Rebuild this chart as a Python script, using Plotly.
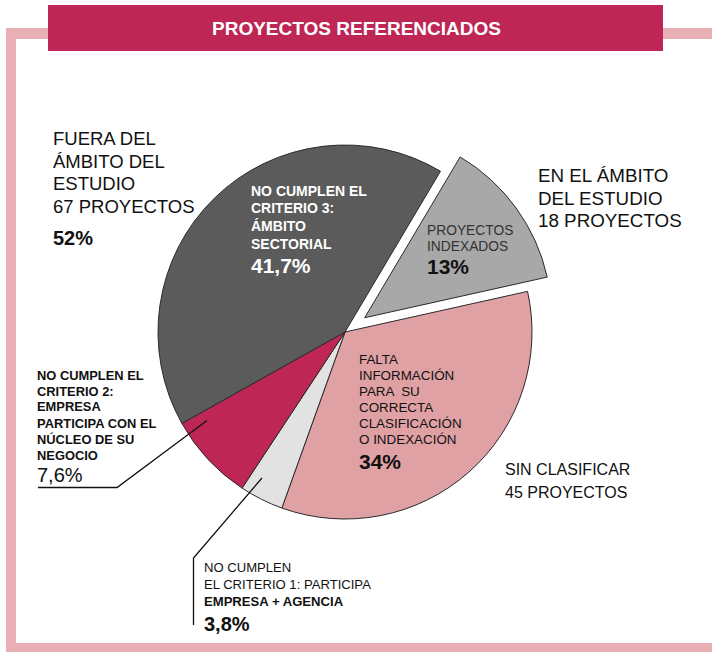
import plotly.graph_objects as go

W, H = 712, 652

# ---- data ----
slice_names = ["Proyectos indexados", "Sin clasificar", "No cumplen criterio 1",
               "No cumplen criterio 2", "No cumplen criterio 3"]
slice_values = [13, 34, 3.8, 7.6, 41.7]
slice_colors = ["#a8a8a8", "#e0a1a5", "#e2e2e2", "#be2656", "#5b5b5b"]
slice_pull = [0.13, 0, 0, 0, 0]

title_text = "PROYECTOS REFERENCIADOS"

FONT = "Liberation Sans, Arial, sans-serif"


def px(x):
    return x / W


def py(y):
    return 1 - y / H


# pie geometry (pixels)
cx, cy, r = 345, 332, 187
half = r * (1 + max(slice_pull))

fig = go.Figure()
fig.add_trace(go.Pie(
    labels=slice_names, values=slice_values, sort=False,
    direction="clockwise", rotation=30.7, pull=slice_pull,
    marker=dict(colors=slice_colors, line=dict(color="#2a2a2a", width=1)),
    textinfo="none", hoverinfo="skip", showlegend=False,
    domain=dict(x=[px(cx - half), px(cx + half)], y=[py(cy + half), py(cy - half)]),
))

annotations = []


def add_lines(lines, x, y0, dy, size, color="#111", bold=False):
    for i, t in enumerate(lines):
        txt = f"<b>{t}</b>" if bold else t
        annotations.append(dict(
            text=txt, x=px(x - 2), y=py(y0 + i * dy), xref="paper", yref="paper",
            xanchor="left", yanchor="middle", showarrow=False,
            font=dict(family=FONT, size=size, color=color)))


# outer labels
add_lines(["FUERA DEL", "ÁMBITO DEL", "ESTUDIO", "67 PROYECTOS"], 53, 138.5, 22.7, 18.5)
add_lines(["52%"], 53, 238, 0, 20, bold=True)
add_lines(["EN EL ÁMBITO", "DEL ESTUDIO", "18 PROYECTOS"], 538, 175.5, 22.7, 18.8)
add_lines(["SIN CLASIFICAR", "45 PROYECTOS"], 505, 470, 22.5, 16)

# inside labels
add_lines(["NO CUMPLEN EL", "CRITERIO 3:", "ÁMBITO", "SECTORIAL"], 251, 190.5, 17.7, 14,
          color="white", bold=True)
add_lines(["41,7%"], 251, 265, 0, 21, color="white", bold=True)
add_lines(["PROYECTOS", "INDEXADOS"], 427, 230.5, 16, 13.8, color="#333")
add_lines(["13%"], 427, 266.5, 0, 21, color="#111", bold=True)
add_lines(["FALTA", "INFORMACIÓN", "PARA  SU", "CORRECTA", "CLASIFICACIÓN", "O INDEXACIÓN"],
          359, 359.5, 16, 13.4, color="#111")
add_lines(["34%"], 359, 461, 0, 21, color="#111", bold=True)

# leader labels
add_lines(["NO CUMPLEN EL", "CRITERIO 2:", "EMPRESA", "PARTICIPA CON EL",
           "NÚCLEO DE SU", "NEGOCIO"], 37, 375, 16, 12.9, bold=True)
add_lines(["7,6%"], 37, 475.5, 0, 20)
add_lines(["NO CUMPLEN", "EL CRITERIO 1: PARTICIPA"], 204, 567.5, 16.7, 13.1)
add_lines(["EMPRESA + AGENCIA"], 204, 601, 0, 13.1, bold=True)
add_lines(["3,8%"], 204, 624, 0, 20, bold=True)

# title
annotations.append(dict(text=f"<b>{title_text}</b>", x=px(356), y=py(29), xref="paper",
                        yref="paper", xanchor="center", yanchor="middle", showarrow=False,
                        font=dict(family=FONT, size=19, color="white")))

frame = "#e8b0b4"
shapes = [
    dict(type="rect", xref="paper", yref="paper", x0=px(6), x1=px(16), y0=py(652), y1=py(28),
         fillcolor=frame, line=dict(width=0)),
    dict(type="rect", xref="paper", yref="paper", x0=px(6), x1=px(712), y0=py(39), y1=py(28),
         fillcolor=frame, line=dict(width=0)),
    dict(type="rect", xref="paper", yref="paper", x0=px(6), x1=px(712), y0=py(652), y1=py(643),
         fillcolor=frame, line=dict(width=0)),
    dict(type="rect", xref="paper", yref="paper", x0=px(48), x1=px(663), y0=py(51), y1=py(5),
         fillcolor="#be2656", line=dict(width=0)),
    dict(type="path", xref="paper", yref="paper",
         path=f"M {px(38)},{py(487.5)} L {px(117)},{py(487.5)} L {px(207)},{py(420.5)}",
         line=dict(color="#111", width=1.3)),
    dict(type="path", xref="paper", yref="paper",
         path=f"M {px(262)},{py(478)} L {px(193.5)},{py(558)} L {px(193.5)},{py(625)}",
         line=dict(color="#111", width=1.3)),
]

fig.update_layout(
    width=W, height=H, margin=dict(l=0, r=0, t=0, b=0),
    paper_bgcolor="white", plot_bgcolor="white",
    annotations=annotations, shapes=shapes, showlegend=False,
)

fig.write_html(
    "out.html",
    config={"displayModeBar": False},
    post_script="document.body.style.margin='0';document.body.style.overflow='hidden';",
)
